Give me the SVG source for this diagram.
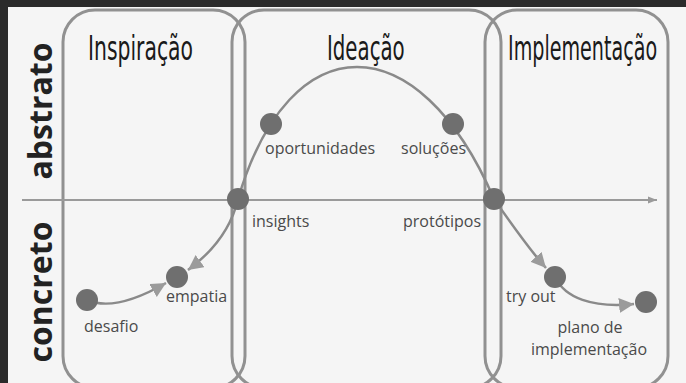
<svg xmlns="http://www.w3.org/2000/svg" width="686" height="383" viewBox="0 0 686 383">
  <defs>
    <marker id="tri" viewBox="0 0 10 10" refX="10" refY="5" markerWidth="15" markerHeight="15" markerUnits="userSpaceOnUse" orient="auto">
      <path d="M0,0 L10,5 L0,10 z" fill="#9b9b9b"/>
    </marker>
    <marker id="axis-head" viewBox="0 0 10 10" refX="10" refY="5" markerWidth="9" markerHeight="9" markerUnits="userSpaceOnUse" orient="auto">
      <path d="M0,1 L10,5 L0,9 z" fill="#9a9a9a"/>
    </marker>
  </defs>
  <style>
    .phase { fill: none; stroke: #919191; stroke-width: 3; }
    .title { font-family: "Liberation Sans Narrow", "DejaVu Sans Condensed", "Liberation Sans", sans-serif; font-size: 33px; fill: #1a1a1a; }
    .side { font-family: "Open Sans", "Noto Sans", sans-serif; font-weight: bold; font-size: 32px; fill: #222222; text-anchor: middle; }
    .flow { fill: none; stroke: #8a8a8a; stroke-width: 2.5; }
    .dot { fill: #6f6f6f; }
    .lbl { font-family: "Open Sans", "Noto Sans", sans-serif; font-size: 16px; fill: #4a4a4a; }
  </style>

  <!-- canvas and dark frame -->
  <rect x="0" y="0" width="686" height="383" fill="#f5f5f5"/>
  <rect x="0" y="0" width="686" height="7" fill="#2b2b2b"/>
  <rect x="0" y="0" width="8" height="383" fill="#2b2b2b"/>

  <!-- phase panels; titles are squeezed horizontally to a narrow hand-lettered look -->
  <g id="phase-inspiracao">
    <rect class="phase" x="63" y="10" width="182" height="378" rx="32"/>
    <text class="title" transform="translate(88,60) scale(0.7,1)" textLength="150" lengthAdjust="spacingAndGlyphs">Inspiração</text>
  </g>
  <g id="phase-ideacao">
    <rect class="phase" x="232" y="10" width="269" height="378" rx="32"/>
    <text class="title" transform="translate(327,60) scale(0.7,1)" textLength="111" lengthAdjust="spacingAndGlyphs">Ideação</text>
  </g>
  <g id="phase-implementacao">
    <rect class="phase" x="485" y="10" width="183" height="378" rx="32"/>
    <text class="title" transform="translate(508,60) scale(0.7,1)" font-size="31" textLength="213" lengthAdjust="spacingAndGlyphs">Implementação</text>
  </g>

  <!-- side labels -->
  <text class="side" transform="translate(52,111) rotate(-90)">abstrato</text>
  <text class="side" transform="translate(52,292) rotate(-90)">concreto</text>

  <!-- connectors -->
  <g id="connectors">
    <line x1="22" y1="200" x2="657" y2="200" stroke="#9a9a9a" stroke-width="2" marker-end="url(#axis-head)"/>
    <path class="flow" d="M87,300 C110,310 140,298 166,283" marker-end="url(#tri)"/>
    <path class="flow" d="M238,199 C232,225 215,250 188,270" marker-end="url(#tri)"/>
    <path class="flow" d="M238,199 C290,23 418,23 494,199"/>
    <path class="flow" d="M494,199 C510,222 528,248 546,268" marker-end="url(#tri)"/>
    <path class="flow" d="M555,277 C565,298 592,308 634,304" marker-end="url(#tri)"/>
  </g>

  <!-- nodes -->
  <g id="node-desafio">
    <circle class="dot" cx="87" cy="300" r="11"/>
    <text class="lbl" x="84" y="332">desafio</text>
  </g>
  <g id="node-empatia">
    <circle class="dot" cx="177" cy="277" r="11"/>
    <text class="lbl" x="166" y="302">empatia</text>
  </g>
  <g id="node-insights">
    <circle class="dot" cx="238" cy="199" r="11"/>
    <text class="lbl" x="252" y="227">insights</text>
  </g>
  <g id="node-oportunidades">
    <circle class="dot" cx="271" cy="124" r="11"/>
    <text class="lbl" x="265" y="154">oportunidades</text>
  </g>
  <g id="node-solucoes">
    <circle class="dot" cx="453" cy="124" r="11"/>
    <text class="lbl" x="401" y="154">soluções</text>
  </g>
  <g id="node-prototipos">
    <circle class="dot" cx="494" cy="199" r="11"/>
    <text class="lbl" x="403" y="227">protótipos</text>
  </g>
  <g id="node-tryout">
    <circle class="dot" cx="555" cy="277" r="11"/>
    <text class="lbl" x="506" y="302">try out</text>
  </g>
  <g id="node-plano">
    <circle class="dot" cx="646" cy="302" r="11"/>
    <text class="lbl" x="590" y="333" font-size="15.5" text-anchor="middle">plano de</text>
    <text class="lbl" x="589" y="355" font-size="15.5" text-anchor="middle">implementação</text>
  </g>
</svg>
